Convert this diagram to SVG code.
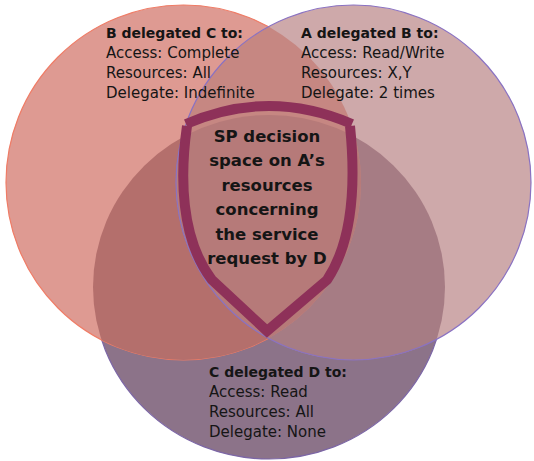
<svg xmlns="http://www.w3.org/2000/svg" width="534" height="461" viewBox="0 0 534 461">
  <style>
    .t { font-family: "DejaVu Sans", "Liberation Sans", sans-serif; fill: #151515; }
    .h { font-size: 14px; font-weight: bold; }
    .b { font-size: 15px; }
    .c { font-size: 16.5px; font-weight: bold; text-anchor: middle; }
    .shield { fill: none; stroke: #8e3159; stroke-width: 10; stroke-linejoin: miter; stroke-miterlimit: 10; }
  </style>
  <defs>
    <circle id="cl" cx="183.5" cy="182.5" r="177.5"/>
    <circle id="cr" cx="353.5" cy="182.5" r="177.5"/>
    <ellipse id="cb" cx="269" cy="287" rx="176" ry="172"/>
    <clipPath id="clipL"><use href="#cl"/></clipPath>
    <clipPath id="clipB"><use href="#cb"/></clipPath>
  </defs>

  <g id="circle-c-delegated-d">
    <use href="#cb" fill="#8c7389" stroke="#7c66a6" stroke-width="1.2"/>
  </g>
  <g id="circle-b-delegated-c">
    <use href="#cl" fill="#de9a92" stroke="#ef7c66" stroke-width="1.2"/>
    <use href="#cl" fill="#b46f6c" clip-path="url(#clipB)"/>
  </g>
  <g id="circle-a-delegated-b">
    <use href="#cr" fill="#cea9aa"/>
    <use href="#cr" fill="#a67c84" clip-path="url(#clipB)"/>
    <use href="#cr" fill="#c68782" clip-path="url(#clipL)"/>
    <g clip-path="url(#clipL)">
      <use href="#cr" fill="#b67a79" clip-path="url(#clipB)"/>
    </g>
    <use href="#cr" fill="none" stroke="#8a72c2" stroke-width="1.2"/>
  </g>

  <g id="shield">
    <path class="shield" d="M187,126 C180,175 180,238 212,280 L267,331 L327,280 C355,238 355,175 350,126"/>
    <path class="shield" d="M186,124 Q269,88 352,124"/>
  </g>

  <g id="label-b-delegated-c" class="t">
    <text class="h" x="106" y="38">B delegated C to:</text>
    <text class="b" x="106" y="58">Access: Complete</text>
    <text class="b" x="106" y="78">Resources: All</text>
    <text class="b" x="106" y="98">Delegate: Indefinite</text>
  </g>
  <g id="label-a-delegated-b" class="t">
    <text class="h" x="301" y="38">A delegated B to:</text>
    <text class="b" x="301" y="58">Access: Read/Write</text>
    <text class="b" x="301" y="78">Resources: X,Y</text>
    <text class="b" x="301" y="98">Delegate: 2 times</text>
  </g>
  <g id="label-c-delegated-d" class="t">
    <text class="h" x="209" y="377">C delegated D to:</text>
    <text class="b" x="209" y="397">Access: Read</text>
    <text class="b" x="209" y="417">Resources: All</text>
    <text class="b" x="209" y="437">Delegate: None</text>
  </g>
  <g id="label-sp" class="t">
    <text class="c" x="267" y="141.5">SP decision</text>
    <text class="c" x="267" y="166">space on A’s</text>
    <text class="c" x="267" y="190.5">resources</text>
    <text class="c" x="267" y="215">concerning</text>
    <text class="c" x="267" y="239.5">the service</text>
    <text class="c" x="267" y="264">request by D</text>
  </g>
</svg>
